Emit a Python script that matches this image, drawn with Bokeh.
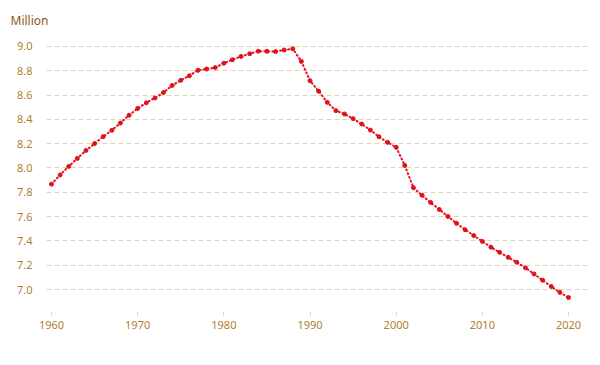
from bokeh.plotting import figure
from bokeh.models import Range1d, FixedTicker, ColumnDataSource, NumeralTickFormatter
from bokeh.embed import file_html
from bokeh.resources import INLINE

years = list(range(1960, 2021))
population = [7.867, 7.943, 8.013, 8.079, 8.144, 8.201, 8.258, 8.310, 8.370, 8.434,
              8.490, 8.536, 8.576, 8.621, 8.679, 8.721, 8.759, 8.804, 8.814, 8.826,
              8.862, 8.891, 8.918, 8.940, 8.961, 8.960, 8.958, 8.971, 8.981, 8.877,
              8.718, 8.632, 8.540, 8.472, 8.444, 8.406, 8.362, 8.312, 8.257, 8.211,
              8.170, 8.021, 7.838, 7.775, 7.716, 7.659, 7.601, 7.545, 7.492, 7.444,
              7.396, 7.348, 7.306, 7.265, 7.224, 7.178, 7.128, 7.076, 7.025, 6.976,
              6.934]
x_ticks = [1960, 1970, 1980, 1990, 2000, 2010, 2020]
y_ticks = [7.0, 7.2, 7.4, 7.6, 7.8, 8.0, 8.2, 8.4, 8.6, 8.8, 9.0]
unit_label = "Million"

FONT = "Noto Sans"
TICK_COLOR = "#b08030"
GRID_COLOR = "#e6d2ae"
RED = "#e3101b"

p = figure(width=592, height=357, output_backend="svg", toolbar_location=None,
           x_range=Range1d(1959.42, 2022.55), y_range=Range1d(6.819, 9.082),
           min_border_left=46, min_border_right=2, min_border_top=36, min_border_bottom=46,
           title=unit_label)
p.outline_line_color = None
p.background_fill_color = "white"
p.border_fill_color = "white"

p.title.align = "left"
p.title.offset = -36
p.title.text_font = FONT
p.title.text_font_size = "12px"
p.title.text_font_style = "normal"
p.title.text_color = "#8a5a22"
p.title.standoff = 16

src = ColumnDataSource(dict(x=years, y=population))
p.line("x", "y", source=src, line_color=RED, line_width=2, line_dash="1 3", line_cap="round")
p.scatter("x", "y", source=src, size=4, color=RED)

p.xaxis.ticker = FixedTicker(ticks=x_ticks)
p.yaxis.ticker = FixedTicker(ticks=y_ticks)
p.yaxis.formatter = NumeralTickFormatter(format="0.0")

for ax in (p.xaxis, p.yaxis):
    ax.axis_line_color = None
    ax.minor_tick_line_color = None
    ax.major_label_text_color = TICK_COLOR
    ax.major_label_text_font = FONT
    ax.major_label_text_font_size = "11px"

p.xaxis.major_tick_line_color = GRID_COLOR
p.xaxis.major_tick_in = 0
p.xaxis.major_tick_out = 4
p.xaxis.major_label_standoff = 5
p.yaxis.major_tick_line_color = None
p.yaxis.major_label_standoff = 8

p.xgrid.grid_line_color = None
p.ygrid.grid_line_color = GRID_COLOR
p.ygrid.grid_line_dash = "5 3"
p.ygrid.grid_line_width = 1

open("out.html", "w").write(file_html(p, INLINE))
